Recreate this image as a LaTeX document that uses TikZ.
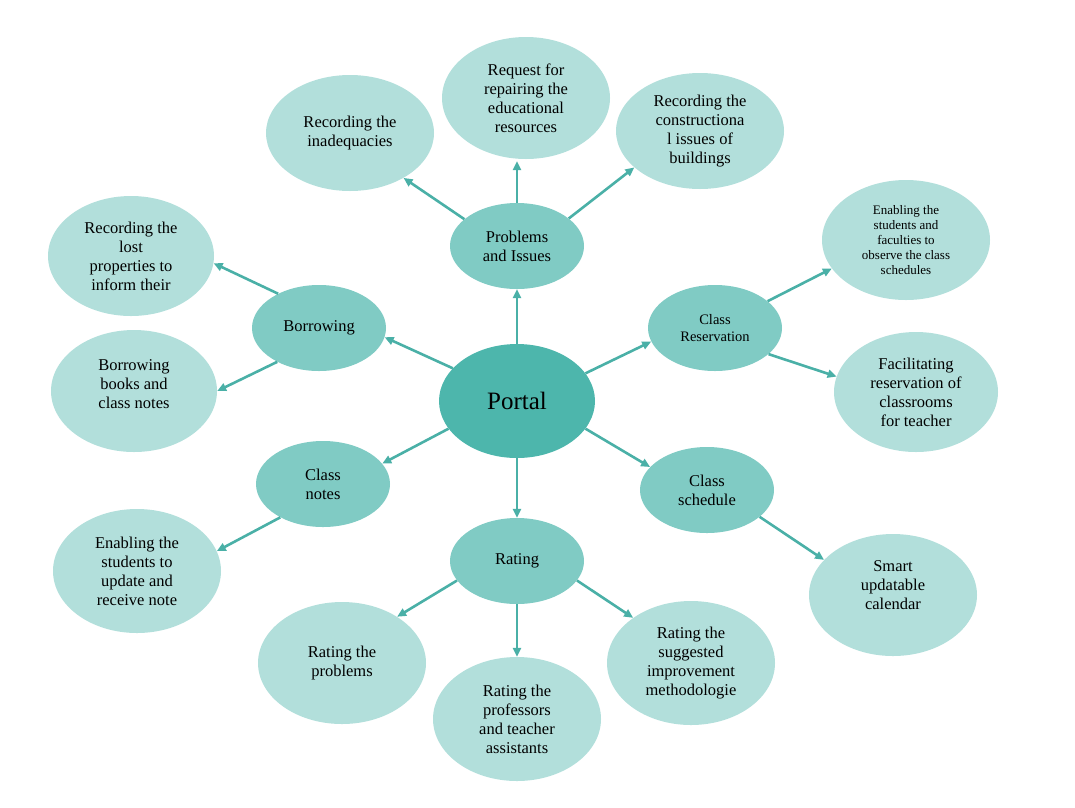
\documentclass[tikz,border=0pt]{standalone}
\usepackage{fontspec}
\setmainfont{Liberation Serif}
\usetikzlibrary{shapes.geometric,arrows.meta}
\definecolor{tdark}{HTML}{4DB6AC}
\definecolor{tmid}{HTML}{80CBC4}
\definecolor{tlight}{HTML}{B2DFDB}
\definecolor{tarrow}{HTML}{4AB0A7}
\tikzset{
  bubble/.style={ellipse, inner sep=0pt, align=center, text=black,
    font=\fontsize{16.5}{19}\selectfont},
  leaf/.style={bubble, fill=tlight, minimum width=168pt, minimum height=122pt},
  hub/.style={bubble, fill=tmid, minimum width=134pt, minimum height=86pt},
  arr/.style={draw=tarrow, line width=2.6pt, -{Triangle[length=9pt,width=8pt]}},
}
\begin{document}
\begin{tikzpicture}[x=1pt,y=-1pt]
\useasboundingbox (0,0) rectangle (1075,807);
% centre
\node[bubble, fill=tdark, minimum width=156pt, minimum height=114pt,
  font=\fontsize{25}{29}\selectfont] (portal) at (517,401) {Portal};
% hubs
\node[hub] (prob) at (517,246) {Problems\\and Issues};
\node[hub] (bor) at (319,328) {Borrowing};
\node[hub, font=\fontsize{14.5}{17}\selectfont] (cr) at (715,328) {Class\\Reservation};
\node[hub] (cn) at (323,484) {Class\\notes};
\node[hub] (cs) at (707,490) {Class\\schedule};
\node[hub] (rat) at (517,561) {Rating};
% leaves
\node[leaf] (req) at (526,98) {Request for\\repairing the\\educational\\resources};
\node[leaf, minimum height=116pt] (inad) at (350,133) {Recording the\\inadequacies};
\node[leaf, minimum height=116pt] (cons) at (700,131) {Recording the\\constructiona\\l issues of\\buildings};
\node[leaf, minimum width=166pt, minimum height=120pt] (lost) at (131,256) {Recording the\\lost\\properties to\\inform their};
\node[leaf, minimum width=166pt] (books) at (134,391) {Borrowing\\books and\\class notes\\[-5pt]\mbox{}};
\node[leaf, minimum height=120pt, font=\fontsize{13}{15}\selectfont] (obs) at (906,240) {Enabling the\\students and\\faculties to\\observe the class\\schedules};
\node[leaf, minimum width=164pt, minimum height=120pt] (fac) at (916,392) {Facilitating\\reservation of\\classrooms\\for teacher};
\node[leaf, minimum height=124pt] (upd) at (137,571) {Enabling the\\students to\\update and\\receive note};
\node[leaf] (cal) at (893,595) {Smart\\updatable\\calendar\\ \mbox{}};
\node[leaf] (rp) at (342,663) {Rating the\\problems};
\node[leaf, minimum height=124pt] (prof) at (517,719) {Rating the\\professors\\and teacher\\assistants};
\node[leaf, minimum height=124pt] (sug) at (691,663) {Rating the\\suggested\\improvement\\methodologie};
% connectors
\draw[arr] (portal.90) -- (prob.270);
\draw[arr] (prob.153) -- (inad.320);
\draw[arr] (prob.90) -- ([yshift=-2pt]prob.90 |- req.south);
\draw[arr] (prob.28) -- (cons.209);
\draw[arr] (portal.153) -- (bor.352);
\draw[arr] (bor.140) -- (lost.355);
\draw[arr] (bor.219) -- (books.0);
\draw[arr] (portal.22) -- (cr.192);
\draw[arr] (cr.27) -- (obs.201);
\draw[arr] (cr.334) -- (fac.169);
\draw[arr] (portal.202) -- (cn.19);
\draw[arr] (cn.218) -- (upd.14);
\draw[arr] (portal.338) -- (cs.158);
\draw[arr] (cs.333) -- (cal.153);
\draw[arr] (portal.270) -- (rat.90);
\draw[arr] (rat.198) -- (rp.40);
\draw[arr] (rat.270) -- (prof.90);
\draw[arr] (rat.342) -- (sug.142);
\end{tikzpicture}
\end{document}
